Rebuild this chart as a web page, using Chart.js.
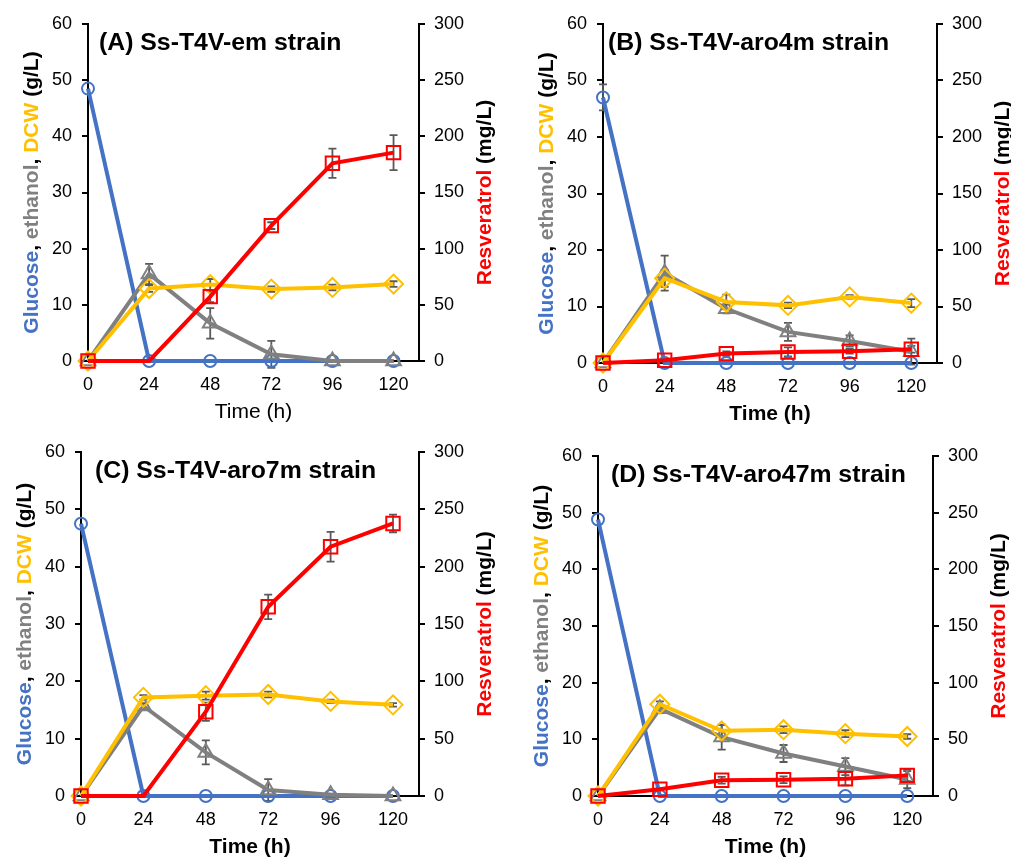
<!DOCTYPE html>
<html>
<head>
<meta charset="utf-8">
<script src="https://cdn.jsdelivr.net/npm/chart.js@4.4.1/dist/chart.umd.min.js"></script>
<style>
  html, body { margin: 0; padding: 0; background: #fff; }
  #page { position: relative; width: 1011px; height: 858px; overflow: hidden; }
  .panel { position: absolute; }
</style>
</head>
<body>
<div id="page">
  <div class="panel" style="left:0;top:0;width:505px;height:430px"><canvas id="cA"></canvas></div>
  <div class="panel" style="left:505px;top:0;width:506px;height:430px"><canvas id="cB"></canvas></div>
  <div class="panel" style="left:0;top:430px;width:505px;height:428px"><canvas id="cC"></canvas></div>
  <div class="panel" style="left:505px;top:430px;width:506px;height:428px"><canvas id="cD"></canvas></div>
</div>
<script>
// time points (h) and axis ticks
const timeH = [0, 24, 48, 72, 96, 120];
const leftTicks = [0, 10, 20, 30, 40, 50, 60];
const rightTicks = [0, 50, 100, 150, 200, 250, 300];

// (A) Ss-T4V-em
const glucoseA = [48.5, 0, 0, 0, 0, 0];
const ethanolA = [0, 15.5, 6.7, 1.2, 0, 0];
const dcwA = [0, 12.9, 13.6, 12.8, 13.1, 13.7];
const resvA = [0, 0, 57.3, 120.5, 176, 185.5];
const glucoseErrA = [0, 0, 0, 0, 0, 0];
const ethanolErrA = [0, 1.8, 2.7, 2.4, 0, 0];
const dcwErrA = [0, 0.6, 1.0, 0.5, 0.5, 0.5];
const resvErrA = [0, 0, 5, 3, 13, 15.5];

// (B) Ss-T4V-aro4m
const glucoseB = [47.0, 0, 0, 0, 0, 0];
const ethanolB = [0, 15.9, 9.6, 5.5, 3.9, 2.0];
const dcwB = [0, 15.0, 10.8, 10.2, 11.7, 10.6];
const resvB = [0, 2.4, 8.3, 9.8, 10.4, 12.1];
const glucoseErrB = [2.3, 0, 0, 0, 0, 0];
const ethanolErrB = [0, 3.1, 0.8, 1.6, 1.0, 2.3];
const dcwErrB = [0, 1.5, 1.3, 0.5, 0.3, 0.7];
const resvErrB = [0, 0, 2, 4, 2, 3];

// (C) Ss-T4V-aro7m
const glucoseC = [47.5, 0, 0, 0, 0, 0];
const ethanolC = [0, 15.7, 7.6, 1.05, 0.2, 0];
const dcwC = [0, 17.2, 17.5, 17.7, 16.5, 15.9];
const resvC = [0, 0, 73.5, 165, 217.4, 237.7];
const glucoseErrC = [0, 0, 0, 0, 0, 0];
const ethanolErrC = [0, 0.5, 2.1, 1.9, 0.2, 0];
const dcwErrC = [0, 0.4, 0.7, 0.5, 0.3, 0.3];
const resvErrC = [0, 0, 8, 10.7, 13, 7.7];

// (D) Ss-T4V-aro47m
const glucoseD = [48.8, 0, 0, 0, 0, 0];
const ethanolD = [0, 15.4, 10.4, 7.5, 5.2, 2.9];
const dcwD = [0, 16.2, 11.5, 11.7, 11.0, 10.5];
const resvD = [0, 5.9, 13.9, 14.4, 15.3, 18.2];
const glucoseErrD = [0, 0, 0, 0, 0, 0];
const ethanolErrD = [0, 0.5, 2.2, 1.5, 1.5, 1.5];
const dcwErrD = [0, 0.5, 1.0, 0.6, 0.6, 0.4];
const resvErrD = [0, 1, 3, 3, 6, 5];

const BLUE = '#4472C4', GRAY = '#808080', GOLD = '#FFC000', RED = '#FF0000';
const FONT = "'Liberation Sans', Arial, sans-serif";

// error bars drawn behind the lines
const errorBars = {
  id: 'errorBars',
  beforeDatasetsDraw(chart) {
    const ctx = chart.ctx;
    const xs = chart.scales.x;
    ctx.save();
    ctx.strokeStyle = '#595959';
    ctx.lineWidth = 1.8;
    chart.data.datasets.forEach(ds => {
      const ys = chart.scales[ds.yAxisID];
      ds.data.forEach((p, i) => {
        const e = ds.errors[i];
        if (!e) return;
        const x = xs.getPixelForValue(p.x);
        const y1 = ys.getPixelForValue(p.y - e);
        const y2 = ys.getPixelForValue(p.y + e);
        ctx.beginPath();
        ctx.moveTo(x, y1); ctx.lineTo(x, y2);
        ctx.moveTo(x - 4, y1); ctx.lineTo(x + 4, y1);
        ctx.moveTo(x - 4, y2); ctx.lineTo(x + 4, y2);
        ctx.stroke();
      });
    });
    ctx.restore();
  }
};

function drawSegments(ctx, segs) {
  let total = 0;
  segs.forEach(s => total += ctx.measureText(s[0]).width);
  let x = -total / 2;
  segs.forEach(s => {
    ctx.fillStyle = s[1];
    ctx.fillText(s[0], x, 0);
    x += ctx.measureText(s[0]).width;
  });
}

// axis titles (multi-coloured) and panel title
const titles = {
  id: 'titles',
  afterDraw(chart, args, opts) {
    const ctx = chart.ctx;
    const a = chart.chartArea;
    const cy = (a.top + a.bottom) / 2;
    ctx.save();
    ctx.textBaseline = 'middle';
    ctx.textAlign = 'left';
    ctx.font = 'bold 21px ' + FONT;

    ctx.save();
    ctx.translate(a.left - 56, cy);
    ctx.rotate(-Math.PI / 2);
    drawSegments(ctx, [['Glucose', BLUE], [', ', '#000'], ['ethanol', GRAY], [', ', '#000'], ['DCW', GOLD], [' (g/L)', '#000']]);
    ctx.restore();

    ctx.save();
    ctx.translate(a.right + 66, cy);
    ctx.rotate(-Math.PI / 2);
    drawSegments(ctx, [['Resveratrol', RED], [' (mg/L)', '#000']]);
    ctx.restore();

    ctx.font = (opts.boldX ? 'bold ' : '') + '21px ' + FONT;
    ctx.save();
    ctx.translate((a.left + a.right) / 2, a.bottom + 51);
    drawSegments(ctx, [['Time (h)', '#000']]);
    ctx.restore();

    ctx.font = 'bold 24.8px ' + FONT;
    ctx.textBaseline = 'alphabetic';
    ctx.fillStyle = '#000';
    ctx.fillText(opts.text, opts.tx, opts.ty);
    ctx.restore();
  }
};

function pts(vals) {
  return vals.map((v, i) => ({ x: timeH[i], y: v }));
}

function makeChart(id, p) {
  const W = p.w, H = p.h;
  const sets = [
    { label: 'Resveratrol', data: pts(p.resv), errors: p.resvErr, yAxisID: 'y1', borderColor: RED,
      pointStyle: 'rect', pointRadius: p.resvRadius, order: 0 },
    { label: 'DCW', data: pts(p.dcw), errors: p.dcwErr, yAxisID: 'y', borderColor: GOLD,
      pointStyle: 'rectRot', pointRadius: 9.5, order: 1 },
    { label: 'Ethanol', data: pts(p.ethanol), errors: p.ethanolErr, yAxisID: 'y', borderColor: GRAY,
      pointStyle: 'triangle', pointRadius: 8.5, order: 2 },
    { label: 'Glucose', data: pts(p.glucose), errors: p.glucoseErr, yAxisID: 'y', borderColor: BLUE,
      pointStyle: 'circle', pointRadius: 6, order: 3 }
  ].map(d => Object.assign(d, {
    borderWidth: 4,
    pointBorderColor: d.borderColor,
    pointBackgroundColor: 'rgba(0,0,0,0)',
    pointBorderWidth: 2,
    tension: 0,
    clip: false
  }));

  new Chart(document.getElementById(id), {
    type: 'line',
    data: { datasets: sets },
    options: {
      responsive: true,
      maintainAspectRatio: false,
      animation: false,
      events: [],
      layout: { padding: { top: p.top, left: 0, right: 0, bottom: 0 } },
      plugins: {
        legend: { display: false },
        tooltip: { enabled: false },
        titles: { text: p.title, tx: p.tx, ty: p.ty, boldX: p.boldX }
      },
      scales: {
        x: {
          type: 'linear', min: 0, max: 130,
          afterBuildTicks: s => { s.ticks = timeH.map(v => ({ value: v })); },
          afterFit: s => { s.height = H - p.bottom; },
          grid: { display: false, drawTicks: false },
          border: { display: true, color: '#000', width: 2 },
          ticks: { padding: 13, color: '#000', font: { family: FONT, size: 18 }, maxRotation: 0 }
        },
        y: {
          position: 'left', min: 0, max: 60,
          afterBuildTicks: s => { s.ticks = leftTicks.map(v => ({ value: v })); },
          afterFit: s => { s.width = p.left; },
          grid: { drawOnChartArea: false, drawTicks: true, tickLength: 6, color: '#000', lineWidth: 2 },
          border: { display: true, color: '#000', width: 2 },
          ticks: { padding: 10, color: '#000', font: { family: FONT, size: 18 } }
        },
        y1: {
          position: 'right', min: 0, max: 300,
          afterBuildTicks: s => { s.ticks = rightTicks.map(v => ({ value: v })); },
          afterFit: s => { s.width = W - p.right; },
          grid: { drawOnChartArea: false, drawTicks: true, tickLength: 6, color: '#000', lineWidth: 2 },
          border: { display: true, color: '#000', width: 2 },
          ticks: { padding: 9, color: '#000', font: { family: FONT, size: 18 } }
        }
      }
    },
    plugins: [errorBars, titles]
  });
}

makeChart('cA', {
  w: 505, h: 430, left: 88, right: 419, top: 24, bottom: 361,
  title: '(A) Ss-T4V-em strain', tx: 99, ty: 50, boldX: false,
  glucose: glucoseA, ethanol: ethanolA, dcw: dcwA, resv: resvA,
  glucoseErr: glucoseErrA, ethanolErr: ethanolErrA, dcwErr: dcwErrA, resvErr: resvErrA,
  resvRadius: [9.5, 0, 9.5, 9.5, 9.5, 9.5]
});
makeChart('cB', {
  w: 506, h: 430, left: 98, right: 432, top: 24, bottom: 363,
  title: '(B) Ss-T4V-aro4m strain', tx: 103, ty: 50, boldX: true,
  glucose: glucoseB, ethanol: ethanolB, dcw: dcwB, resv: resvB,
  glucoseErr: glucoseErrB, ethanolErr: ethanolErrB, dcwErr: dcwErrB, resvErr: resvErrB,
  resvRadius: 9.5
});
makeChart('cC', {
  w: 505, h: 428, left: 81, right: 419, top: 22, bottom: 366,
  title: '(C) Ss-T4V-aro7m strain', tx: 95, ty: 48, boldX: true,
  glucose: glucoseC, ethanol: ethanolC, dcw: dcwC, resv: resvC,
  glucoseErr: glucoseErrC, ethanolErr: ethanolErrC, dcwErr: dcwErrC, resvErr: resvErrC,
  resvRadius: [9.5, 0, 9.5, 9.5, 9.5, 9.5]
});
makeChart('cD', {
  w: 506, h: 428, left: 93, right: 428, top: 26, bottom: 366,
  title: '(D) Ss-T4V-aro47m strain', tx: 106, ty: 52, boldX: true,
  glucose: glucoseD, ethanol: ethanolD, dcw: dcwD, resv: resvD,
  glucoseErr: glucoseErrD, ethanolErr: ethanolErrD, dcwErr: dcwErrD, resvErr: resvErrD,
  resvRadius: 9.5
});
</script>
</body>
</html>
